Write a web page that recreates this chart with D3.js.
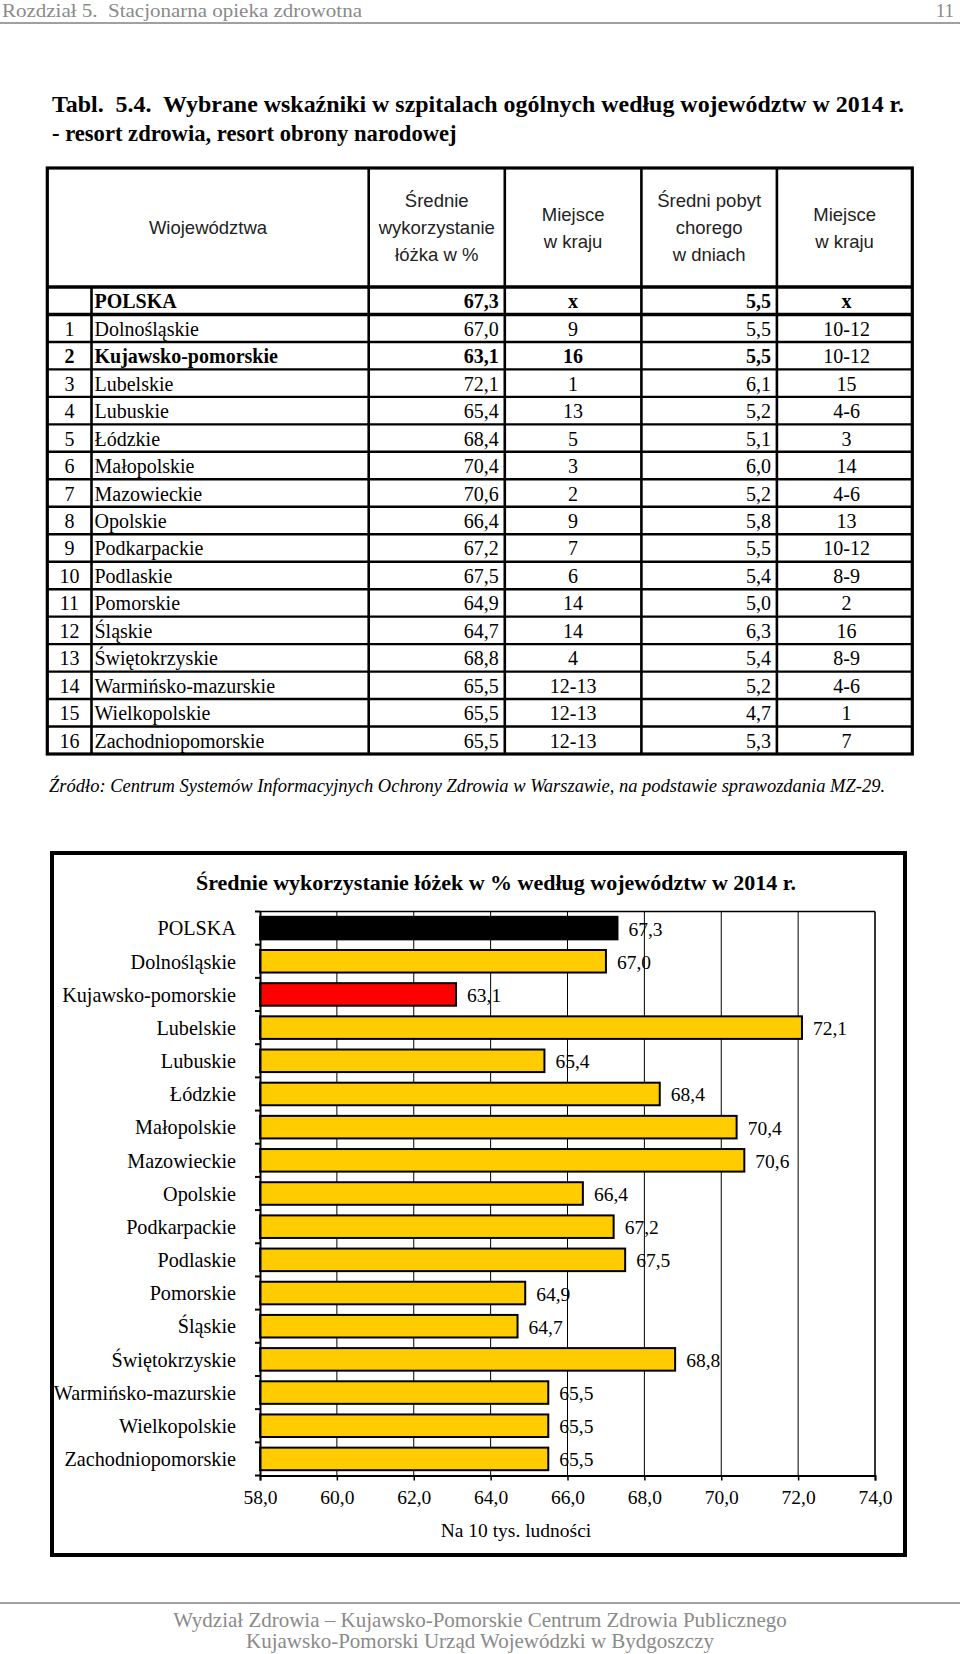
<!DOCTYPE html>
<html>
<head>
<meta charset="utf-8">
<script src="https://cdn.jsdelivr.net/npm/d3@7"></script>
<style>
  body { margin: 0; background: #fff; }
  svg { display: block; }
</style>
</head>
<body>
<svg id="page" width="960" height="1654"></svg>
<script>

// ---- data ----
const regions = [ "POLSKA", "Dolnośląskie", "Kujawsko-pomorskie", "Lubelskie", "Lubuskie", "Łódzkie",
	"Małopolskie", "Mazowieckie", "Opolskie", "Podkarpackie", "Podlaskie", "Pomorskie", "Śląskie",
	"Świętokrzyskie", "Warmińsko-mazurskie", "Wielkopolskie", "Zachodniopomorskie" ] ;
const rowNumbers = [ "", "1", "2", "3", "4", "5", "6", "7", "8", "9", "10", "11", "12", "13", "14", "15", "16" ] ;
const occupancy = [ 67.3, 67.0, 63.1, 72.1, 65.4, 68.4, 70.4, 70.6, 66.4, 67.2, 67.5, 64.9, 64.7, 68.8, 65.5, 65.5, 65.5 ] ;
const occupancyRank = [ "x", "9", "16", "1", "13", "5", "3", "2", "9", "7", "6", "14", "14", "4", "12-13", "12-13", "12-13" ] ;
const stayDays = [ 5.5, 5.5, 5.5, 6.1, 5.2, 5.1, 6.0, 5.2, 5.8, 5.5, 5.4, 5.0, 6.3, 5.4, 5.2, 4.7, 5.3 ] ;
const stayRank = [ "x", "10-12", "10-12", "15", "4-6", "3", "14", "4-6", "13", "10-12", "8-9", "2", "16", "8-9", "4-6", "1", "7" ] ;
const xTicks = [ 58, 60, 62, 64, 66, 68, 70, 72, 74 ] ;

const serif = "'Liberation Serif', 'Times New Roman', serif" ;
const sans = "'Liberation Sans', Arial, sans-serif" ;
const fmt = function(v) { return d3.format(".1f")(v).replace(".", ",") ; } ;

const svg = d3.select("#page") ;

// ---- page header / footer ----
svg.append("text").attr("x", 2).attr("y", 17).attr("xml:space", "preserve")
	.attr("textLength", 360).attr("lengthAdjust", "spacingAndGlyphs")
	.style("font-family", serif).style("font-size", "19px").style("fill", "#8a8a8a")
	.text("Rozdział 5.  Stacjonarna opieka zdrowotna") ;
svg.append("text").attr("x", 954).attr("y", 17).attr("text-anchor", "end")
	.style("font-family", serif).style("font-size", "19px").style("fill", "#8a8a8a")
	.text("11") ;
svg.append("line").attr("x1", 0).attr("x2", 960).attr("y1", 23).attr("y2", 23)
	.style("stroke", "#a0a0a0").style("stroke-width", 2) ;

svg.append("text").attr("x", 52).attr("y", 112).attr("xml:space", "preserve")
	.attr("textLength", 852).attr("lengthAdjust", "spacingAndGlyphs")
	.style("font-family", serif).style("font-size", "23px").style("font-weight", "bold")
	.text("Tabl.  5.4.  Wybrane wskaźniki w szpitalach ogólnych według województw w 2014 r.") ;
svg.append("text").attr("x", 52).attr("y", 141)
	.style("font-family", serif).style("font-size", "22.6px").style("font-weight", "bold")
	.text("- resort zdrowia, resort obrony narodowej") ;

svg.append("line").attr("x1", 0).attr("x2", 960).attr("y1", 1603).attr("y2", 1603)
	.style("stroke", "#a0a0a0").style("stroke-width", 2) ;
svg.append("text").attr("x", 480).attr("y", 1627).attr("text-anchor", "middle")
	.style("font-family", serif).style("font-size", "21px").style("fill", "#8a8a8a")
	.text("Wydział Zdrowia – Kujawsko-Pomorskie Centrum Zdrowia Publicznego") ;
svg.append("text").attr("x", 480).attr("y", 1648).attr("text-anchor", "middle")
	.style("font-family", serif).style("font-size", "21px").style("fill", "#8a8a8a")
	.text("Kujawsko-Pomorski Urząd Wojewódzki w Bydgoszczy") ;

// ---- table ----
const colEdges = [ 47.3, 91.5, 368.7, 504.8, 641.4, 776.9, 912.3 ] ;
const tableTop = 168, headBottom = 287, tableBottom = 754 ;
const rowY = d3.scaleBand().domain(d3.range(regions.length)).range([headBottom, tableBottom]) ;

const table = svg.append("g").attr("class", "table") ;

// header texts
const heads = [
	{ x: (colEdges[0]+colEdges[2])/2, lines: ["Wiojewództwa"], y0: 234 },
	{ x: (colEdges[2]+colEdges[3])/2, lines: ["Średnie", "wykorzystanie", "łóżka w %"], y0: 207 },
	{ x: (colEdges[3]+colEdges[4])/2, lines: ["Miejsce", "w kraju"], y0: 221 },
	{ x: (colEdges[4]+colEdges[5])/2, lines: ["Średni pobyt", "chorego", "w dniach"], y0: 207 },
	{ x: (colEdges[5]+colEdges[6])/2, lines: ["Miejsce", "w kraju"], y0: 221 }
] ;
heads.forEach(function(h) {
	h.lines.forEach(function(t, i) {
		table.append("text").attr("x", h.x).attr("y", h.y0 + i*27).attr("text-anchor", "middle")
			.style("font-family", sans).style("font-size", "18.5px").style("fill", "#222")
			.text(t) ;
	}) ;
}) ;

// rows
regions.forEach(function(r, i) {
	const yb = rowY(i) + rowY.bandwidth()/2 + 7.5 ;
	const bold = (i === 0 || i === 2) ? "bold" : "normal" ;
	const cells = [
		{ x: (colEdges[0]+colEdges[1])/2, a: "middle", t: rowNumbers[i], w: bold },
		{ x: colEdges[1] + 3, a: "start", t: r, w: bold },
		{ x: colEdges[3] - 6, a: "end", t: fmt(occupancy[i]), w: bold },
		{ x: (colEdges[3]+colEdges[4])/2, a: "middle", t: occupancyRank[i], w: bold },
		{ x: colEdges[5] - 6, a: "end", t: fmt(stayDays[i]), w: bold },
		{ x: (colEdges[5]+colEdges[6])/2 + 2, a: "middle", t: stayRank[i], w: i === 0 ? "bold" : "normal" }
	] ;
	cells.forEach(function(c) {
		table.append("text").attr("x", c.x).attr("y", yb).attr("text-anchor", c.a)
			.style("font-family", serif).style("font-size", "20px").style("font-weight", c.w)
			.text(c.t) ;
	}) ;
}) ;

// grid lines of table
regions.forEach(function(r, i) {
	if (i === 0) return ;
	table.append("line").attr("x1", colEdges[0]).attr("x2", colEdges[6])
		.attr("y1", rowY(i)).attr("y2", rowY(i))
		.style("stroke", "#000").style("stroke-width", i === 1 ? 3.5 : 2.4) ;
}) ;
table.append("line").attr("x1", colEdges[0]).attr("x2", colEdges[6])
	.attr("y1", headBottom).attr("y2", headBottom).style("stroke", "#000").style("stroke-width", 3.5) ;
table.append("line").attr("x1", colEdges[1]).attr("x2", colEdges[1])
	.attr("y1", headBottom).attr("y2", tableBottom).style("stroke", "#000").style("stroke-width", 2.6) ;
colEdges.slice(2, 6).forEach(function(x) {
	table.append("line").attr("x1", x).attr("x2", x).attr("y1", tableTop).attr("y2", tableBottom)
		.style("stroke", "#000").style("stroke-width", 2.6) ;
}) ;
table.append("rect").attr("x", colEdges[0]).attr("y", tableTop)
	.attr("width", colEdges[6]-colEdges[0]).attr("height", tableBottom-tableTop)
	.style("fill", "none").style("stroke", "#000").style("stroke-width", 3.2) ;

svg.append("text").attr("x", 49).attr("y", 792)
	.style("font-family", serif).style("font-size", "18.5px").style("font-style", "italic")
	.text("Źródło: Centrum Systemów Informacyjnych Ochrony Zdrowia w Warszawie, na podstawie sprawozdania MZ-29.") ;

// ---- chart ----
svg.append("rect").attr("x", 52).attr("y", 853).attr("width", 853).attr("height", 702)
	.style("fill", "#fff").style("stroke", "#000").style("stroke-width", 4) ;

svg.append("text").attr("x", 496).attr("y", 890).attr("text-anchor", "middle")
	.style("font-family", serif).style("font-size", "22px").style("font-weight", "bold")
	.text("Średnie wykorzystanie łóżek w % według województw w 2014 r.") ;

const plot = { left: 260, right: 875, top: 911.5, bottom: 1475.5 } ;
const x = d3.scaleLinear().domain([58, 74]).range([plot.left, plot.right]) ;
const y = d3.scaleBand().domain(regions).range([plot.top, plot.bottom])
	.paddingInner(0.32).paddingOuter(0.16) ;

const chart = svg.append("g").attr("class", "chart") ;

// vertical grid
chart.selectAll("line.grid").data(xTicks.slice(1))
	.enter().append("line").attr("class", "grid")
	.attr("x1", function(d) { return x(d) ; }).attr("x2", function(d) { return x(d) ; })
	.attr("y1", plot.top).attr("y2", plot.bottom)
	.style("stroke", "#000").style("stroke-width", function(d) { return d === 74 ? 1.6 : 1 ; }) ;
chart.append("line").attr("x1", plot.left).attr("x2", plot.right).attr("y1", plot.top).attr("y2", plot.top)
	.style("stroke", "#000").style("stroke-width", 1.6) ;

// bars
const barColor = function(d, i) { return i === 0 ? "#000" : (i === 2 ? "#ff0000" : "#ffcc00") ; } ;
chart.selectAll("rect.bar").data(occupancy)
	.enter().append("rect").attr("class", "bar")
	.attr("x", x(58))
	.attr("y", function(d, i) { return y(regions[i]) ; })
	.attr("width", function(d) { return x(d) - x(58) ; })
	.attr("height", y.bandwidth())
	.style("fill", barColor).style("stroke", "#000").style("stroke-width", 2) ;

chart.selectAll("text.val").data(occupancy)
	.enter().append("text").attr("class", "val")
	.attr("x", function(d) { return x(d) + 11 ; })
	.attr("y", function(d, i) { return y(regions[i]) + y.bandwidth()/2 + 7.5 ; })
	.style("font-family", serif).style("font-size", "19.5px")
	.text(fmt) ;

// left axis
const yAxis = d3.axisLeft(y).tickSize(0).tickPadding(24) ;
const gy = chart.append("g").attr("transform", "translate(" + plot.left + ",0)").call(yAxis) ;
gy.select(".domain").style("stroke", "#000").style("stroke-width", 2) ;
gy.selectAll("text").style("font-family", serif).style("font-size", "20.2px").style("fill", "#000")
	.attr("dy", "0.36em") ;
const bounds = regions.map(function(r) { return y(r) - y.step()*y.paddingInner()/2 ; })
	.concat([plot.bottom]) ;
chart.selectAll("line.ytick").data(bounds)
	.enter().append("line").attr("class", "ytick")
	.attr("x1", plot.left - 5).attr("x2", plot.left)
	.attr("y1", function(d) { return d ; }).attr("y2", function(d) { return d ; })
	.style("stroke", "#000").style("stroke-width", 2) ;

// bottom axis
const xAxis = d3.axisBottom(x).tickValues(xTicks).tickSize(5).tickPadding(10).tickFormat(fmt) ;
const gx = chart.append("g").attr("transform", "translate(0," + plot.bottom + ")").call(xAxis) ;
gx.select(".domain").style("stroke", "#000").style("stroke-width", 2) ;
gx.selectAll(".tick line").style("stroke", "#000").style("stroke-width", 1.5) ;
gx.selectAll("text").style("font-family", serif).style("font-size", "19.5px").style("fill", "#000") ;

chart.append("text").attr("x", 516).attr("y", 1537).attr("text-anchor", "middle")
	.style("font-family", serif).style("font-size", "19.5px")
	.text("Na 10 tys. ludności") ;

</script>
</body>
</html>
